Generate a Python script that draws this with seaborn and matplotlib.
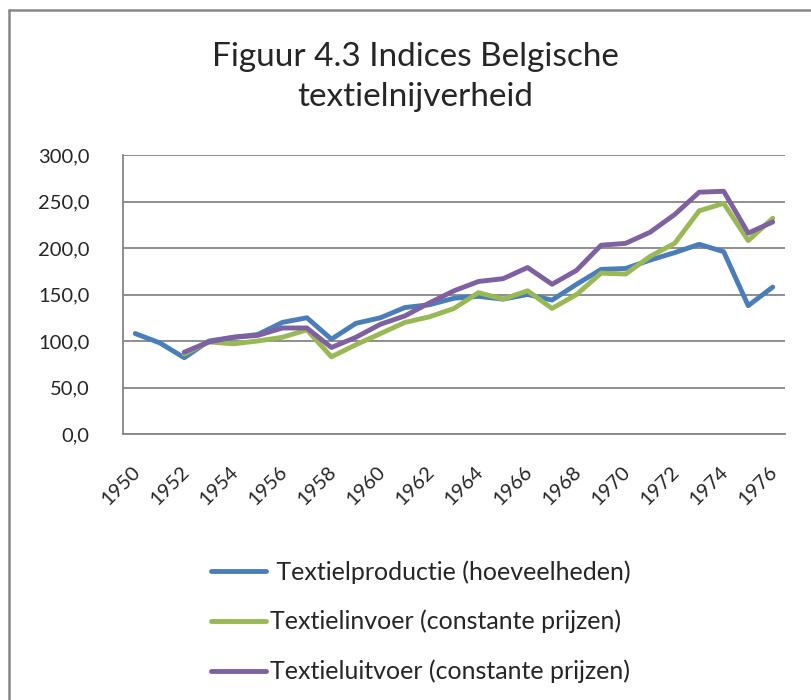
import numpy as np
import pandas as pd
import seaborn as sns
from matplotlib import pyplot as plt
from matplotlib.lines import Line2D
from matplotlib.transforms import ScaledTranslation

# data
years = list(range(1950, 1977))
productie = [108, 98, 82, 100, 104, 107, 120, 125, 102, 119, 125, 136, 139, 146,
             148, 145, 150, 144, 161, 177, 178, 187, 195, 204, 196, 138, 158]
invoer = [np.nan, np.nan, 86, 99, 97, 100, 104, 112, 83, 96, 108, 120, 126, 135,
          152, 145, 154, 135, 150, 173, 172, 191, 205, 240, 248, 208, 232]
uitvoer = [np.nan, np.nan, 88, 99, 104, 106, 114, 114, 93, 104, 118, 127, 141, 154,
           164, 167, 179, 161, 176, 203, 205, 217, 236, 260, 261, 216, 228]
labels = [" Textielproductie (hoeveelheden)", "Textielinvoer (constante prijzen)",
          "Textieluitvoer (constante prijzen)"]
colors = ["#4A7EBB", "#98B954", "#7F60A0"]

df = pd.DataFrame({"jaar": years * 3,
                   "index": productie + invoer + uitvoer,
                   "reeks": [labels[0]] * 27 + [labels[1]] * 27 + [labels[2]] * 27})

sns.set_style("white")
plt.rcParams['font.family'] = ['Lato', 'DejaVu Sans']

fig = plt.figure(figsize=(8.11, 7.0), dpi=100)
ax = fig.add_axes([123 / 811, 1 - 434 / 700, (785 - 123) / 811, (434 - 155) / 700])

sns.lineplot(data=df, x="jaar", y="index", hue="reeks", palette=colors,
             linewidth=3.5, ax=ax, legend=False, sort=False)

ax.set_xlim(1949.5, 1976.5)
ax.set_ylim(0, 300)
ax.set_yticks(np.arange(0, 301, 50))
ax.set_yticklabels([f"{v:.1f}".replace(".", ",") for v in np.arange(0, 301, 50)],
                   fontsize=14.5)
ax.set_xticks(years[::2])
ax.set_xticklabels([str(y) for y in years[::2]], fontsize=14.5, rotation=45,
                   ha="right", va="center", rotation_mode="anchor")
ax.set_xticks(np.arange(1949.5, 1977, 1), minor=True)
ax.tick_params(axis="x", which="major", length=0, pad=25)
ax.tick_params(axis="x", which="minor", length=7, width=1.3, color="#868686", direction="out")
ax.tick_params(axis="y", length=7, width=1.3, color="#868686", direction="out", pad=17)
for lab in ax.get_xticklabels():
    lab.set_transform(lab.get_transform() + ScaledTranslation(0.02, 0, fig.dpi_scale_trans))

ax.grid(axis="y", color="#868686", linewidth=1.3)
ax.set_axisbelow(True)
for s in ["top", "right"]:
    ax.spines[s].set_visible(False)
for s in ["left", "bottom"]:
    ax.spines[s].set_color("#868686")
    ax.spines[s].set_linewidth(1.3)
ax.set_xlabel("")
ax.set_ylabel("")

fig.text(415 / 811, 1 - 77 / 700, "Figuur 4.3 Indices Belgische\ntextielnijverheid",
         ha="center", va="center", fontsize=24, linespacing=1.45)

handles = [Line2D([], [], color=c, linewidth=3.5) for c in colors]
fig.legend(handles, labels, loc="upper left", bbox_to_anchor=(211 / 811, 1 - 560 / 700),
           frameon=False, fontsize=18, handlelength=2.2, handletextpad=0.15,
           labelspacing=1.05, borderpad=0, borderaxespad=0)

# chart border
fig.add_artist(Line2D([8.5 / 811, 8.5 / 811], [0, 1 - 10 / 700], color="#868686",
                      linewidth=1.8, transform=fig.transFigure))
fig.add_artist(Line2D([8.5 / 811, 1], [1 - 10 / 700, 1 - 10 / 700], color="#868686",
                      linewidth=1.8, transform=fig.transFigure))

fig.savefig("out.png", dpi=100)
